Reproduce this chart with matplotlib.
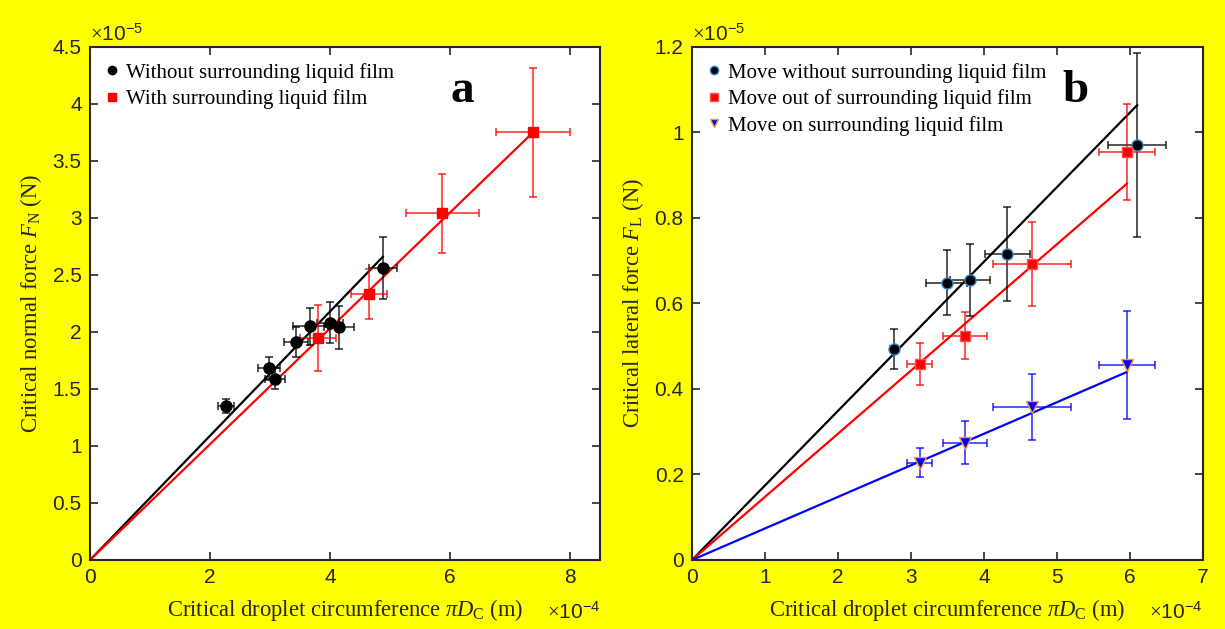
import matplotlib
matplotlib.use("Agg")
import matplotlib.pyplot as plt
import numpy as np
from matplotlib.ticker import FuncFormatter, MultipleLocator

plt.rcParams['mathtext.fontset'] = 'custom'
plt.rcParams['mathtext.rm'] = 'Liberation Serif'
plt.rcParams['mathtext.it'] = 'Liberation Serif:italic'
plt.rcParams['mathtext.bf'] = 'Liberation Serif:bold'
plt.rcParams['mathtext.sf'] = 'Liberation Sans'

# ---------------- Data (x in 1e-4 m, y in 1e-5 N) ----------------
# Panel a
a_wo_x = [2.27, 2.98, 3.08, 3.43, 3.67, 4.00, 4.15, 4.88]
a_wo_y = [1.35, 1.68, 1.59, 1.91, 2.05, 2.08, 2.04, 2.56]
a_wo_xerr = [0.13, 0.18, 0.17, 0.20, 0.29, 0.22, 0.25, 0.23]
a_wo_yerr = [0.06, 0.10, 0.09, 0.13, 0.16, 0.18, 0.19, 0.27]
a_wo_slope = 0.545

a_w_x = [3.80, 4.65, 5.87, 7.38]
a_w_y = [1.95, 2.33, 3.04, 3.75]
a_w_xerr = [0.30, 0.30, 0.61, 0.62]
a_w_yerr = [0.29, 0.22, 0.35, 0.57]
a_w_slope = 0.508

# Panel b
b_wo_x = [2.77, 3.49, 3.81, 4.32, 6.10]
b_wo_y = [0.494, 0.648, 0.655, 0.716, 0.971]
b_wo_xerr = [0.05, 0.28, 0.27, 0.31, 0.40]
b_wo_yerr = [0.047, 0.076, 0.085, 0.110, 0.215]
b_wo_slope = 0.1744

b_out_x = [3.12, 3.74, 4.66, 5.96]
b_out_y = [0.458, 0.524, 0.692, 0.954]
b_out_xerr = [0.17, 0.30, 0.53, 0.38]
b_out_yerr = [0.049, 0.055, 0.098, 0.112]
b_out_slope = 0.1477

b_on_x = [3.12, 3.74, 4.66, 5.96]
b_on_y = [0.227, 0.274, 0.358, 0.456]
b_on_xerr = [0.17, 0.30, 0.53, 0.38]
b_on_yerr = [0.034, 0.050, 0.078, 0.127]
b_on_slope = 0.0738

legend_a = ["Without surrounding liquid film", "With surrounding liquid film"]
legend_b = ["Move without surrounding liquid film",
            "Move out of surrounding liquid film",
            "Move on surrounding liquid film"]

YELLOW = '#FFFF00'
fig = plt.figure(figsize=(12.25, 6.29), dpi=100, facecolor=YELLOW)
axA = fig.add_axes([0.0735, 0.1097, 0.4163, 0.8156])
axB = fig.add_axes([0.5649, 0.1097, 0.4170, 0.8156])

SERIF = 'Liberation Serif'
SANS = 'Liberation Sans'
fmt = FuncFormatter(lambda v, p: ('%g' % round(v, 6)))

def style(ax, xmax, ymax, ystep, xstep):
    ax.set_xlim(0, xmax)
    ax.set_ylim(0, ymax)
    ax.xaxis.set_major_locator(MultipleLocator(xstep))
    ax.yaxis.set_major_locator(MultipleLocator(ystep))
    ax.xaxis.set_major_formatter(fmt)
    ax.yaxis.set_major_formatter(fmt)
    ax.tick_params(direction='in', top=True, right=True, length=6, width=1.2,
                   labelsize=15, colors='#262626', pad=6)
    for lab in ax.get_xticklabels() + ax.get_yticklabels():
        lab.set_fontfamily(SANS)
    for s in ax.spines.values():
        s.set_linewidth(1.5)
        s.set_color('#262626')

def series(ax, x, y, xe, ye, slope, color, ecolor, marker, mfc, mec, ms, label):
    x = np.asarray(x); y = np.asarray(y)
    xl = np.array([0, x.max()])
    ax.plot(xl, slope * xl, color=color, lw=1.6, zorder=2)
    ax.errorbar(x, y, xerr=xe, yerr=ye, fmt='none', ecolor=ecolor, elinewidth=1.1,
                capsize=3, capthick=1.1, alpha=0.85, zorder=3)
    h, = ax.plot(x, y, ls='none', marker=marker, mfc=mfc, mec=mec, ms=ms, mew=1.0,
                 zorder=4, label=label)
    return h

LEG = dict(loc='upper left', frameon=False, prop={'family': SERIF, 'size': 15},
           handlelength=0.6, handletextpad=0.4, labelspacing=0.32,
           borderaxespad=0.35, markerscale=0.75)

# Panel a
style(axA, 8.5, 4.5, 0.5, 2)
hA1 = series(axA, a_wo_x, a_wo_y, a_wo_xerr, a_wo_yerr, a_wo_slope,
             'black', 'black', 'o', 'black', 'black', 8, legend_a[0])
hA2 = series(axA, a_w_x, a_w_y, a_w_xerr, a_w_yerr, a_w_slope,
             'red', 'red', 's', 'red', 'red', 7, legend_a[1])
axA.legend(handles=[hA1, hA2], **LEG)
axA.text(0.73, 0.915, 'a', transform=axA.transAxes, fontsize=34,
         fontweight='bold', family=SERIF, ha='center', va='center')
axA.set_xlabel(r'Critical droplet circumference $\pi D_\mathrm{C}$ (m)',
               family=SERIF, fontsize=16.3, color='#262626', labelpad=7)
axA.set_ylabel(r'Critical normal force $F_\mathrm{N}$ (N)',
               family=SERIF, fontsize=16.3, color='#262626', labelpad=6)
axA.text(0.0, 1.005, r'$\times\mathsf{10^{-5}}$', transform=axA.transAxes,
         fontsize=15, color='#262626', ha='left', va='bottom')
axA.text(1.0, -0.08, r'$\times\mathsf{10^{-4}}$', transform=axA.transAxes,
         fontsize=15, color='#262626', ha='right', va='top')

# Panel b
style(axB, 7, 1.2, 0.2, 1)
hB1 = series(axB, b_wo_x, b_wo_y, b_wo_xerr, b_wo_yerr, b_wo_slope,
             'black', 'black', 'o', 'black', '#2E8BD0', 8, legend_b[0])
hB2 = series(axB, b_out_x, b_out_y, b_out_xerr, b_out_yerr, b_out_slope,
             'red', 'red', 's', 'red', '#FF5050', 7, legend_b[1])
hB3 = series(axB, b_on_x, b_on_y, b_on_xerr, b_on_yerr, b_on_slope,
             'blue', 'blue', 'v', 'blue', '#F0A030', 8, legend_b[2])
axB.legend(handles=[hB1, hB2, hB3], **LEG)
axB.text(0.75, 0.915, 'b', transform=axB.transAxes, fontsize=34,
         fontweight='bold', family=SERIF, ha='center', va='center')
axB.set_xlabel(r'Critical droplet circumference $\pi D_\mathrm{C}$ (m)',
               family=SERIF, fontsize=16.3, color='#262626', labelpad=7)
axB.set_ylabel(r'Critical lateral force $F_\mathrm{L}$ (N)',
               family=SERIF, fontsize=16.3, color='#262626', labelpad=6)
axB.text(0.0, 1.005, r'$\times\mathsf{10^{-5}}$', transform=axB.transAxes,
         fontsize=15, color='#262626', ha='left', va='bottom')
axB.text(1.0, -0.08, r'$\times\mathsf{10^{-4}}$', transform=axB.transAxes,
         fontsize=15, color='#262626', ha='right', va='top')

fig.savefig('out.png', dpi=100, facecolor=YELLOW)
